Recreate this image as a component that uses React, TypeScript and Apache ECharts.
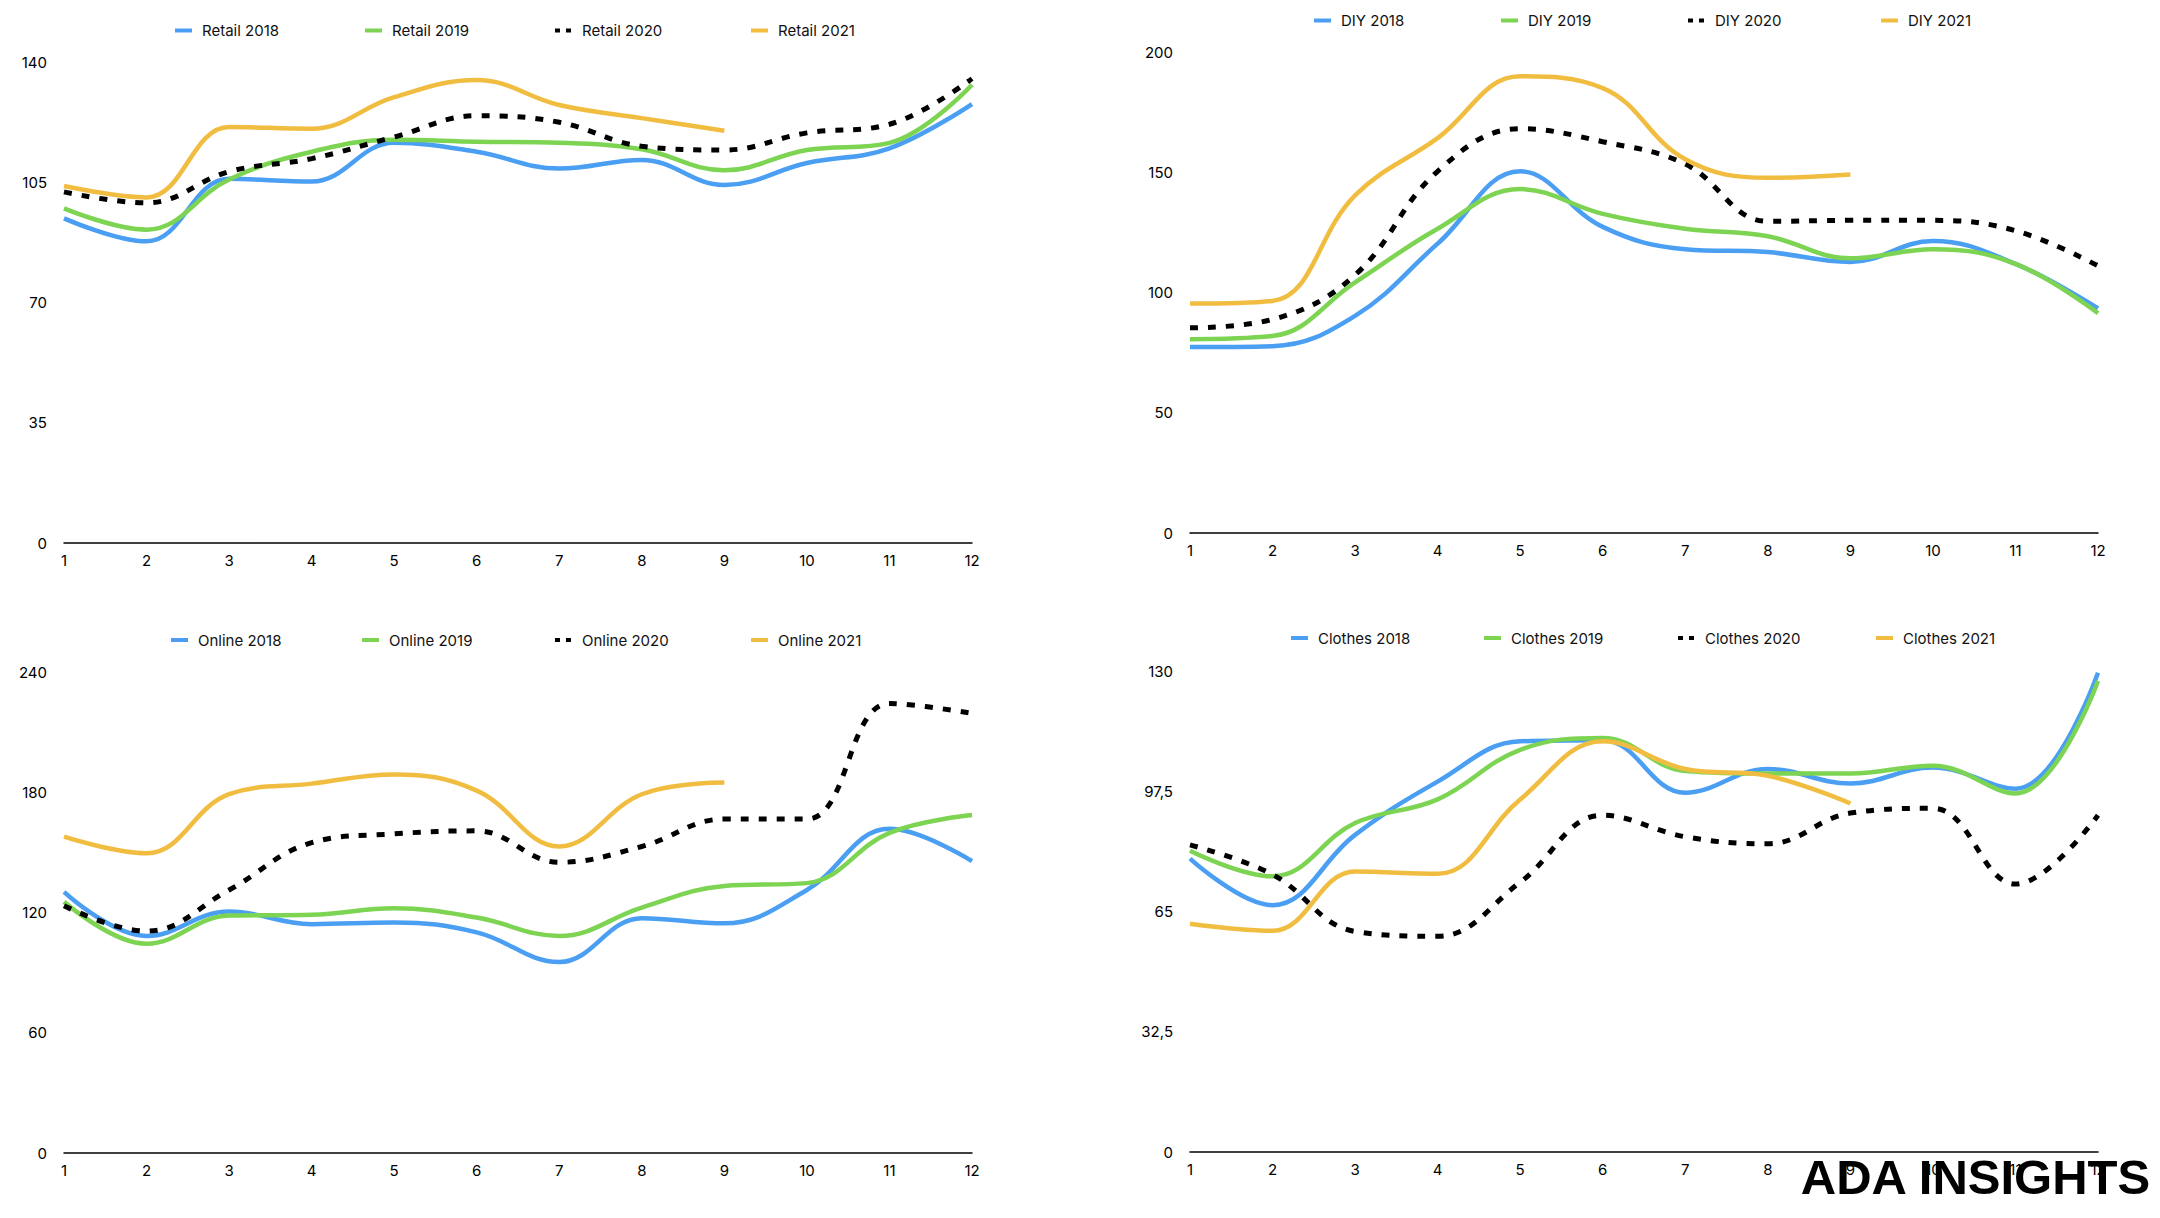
import React, { useEffect, useRef } from "react";
import * as echarts from "echarts";

const months = ["1", "2", "3", "4", "5", "6", "7", "8", "9", "10", "11", "12"];

const retailNames = ["Retail 2018", "Retail 2019", "Retail 2020", "Retail 2021"];
const retail2018 = [94.6, 87.9, 106.1, 105.3, 116.6, 114.0, 109.1, 111.6, 104.3, 110.7, 115.0, 127.9];
const retail2019 = [97.5, 91.3, 105.9, 114.0, 117.5, 116.9, 116.6, 114.7, 108.6, 114.5, 116.6, 133.5];
const retail2020 = [102.3, 99.1, 108.2, 112.0, 118.3, 124.5, 122.6, 115.6, 114.5, 119.5, 122.0, 135.3];
const retail2021 = [104.0, 100.7, 121.2, 120.7, 129.9, 134.9, 127.6, 123.8, 120.1];

const diyNames = ["DIY 2018", "DIY 2019", "DIY 2020", "DIY 2021"];
const diy2018 = [77.3, 77.7, 90.3, 120.3, 150.4, 127.3, 118.0, 116.8, 112.7, 121.4, 111.9, 93.4];
const diy2019 = [80.6, 81.9, 104.2, 126.5, 143.0, 132.7, 126.5, 123.4, 114.2, 118.0, 111.9, 91.4];
const diy2020 = [85.3, 88.8, 107.3, 150.4, 168.1, 162.7, 153.4, 129.6, 130.0, 130.0, 125.7, 111.1];
const diy2021 = [95.4, 96.5, 140.4, 164.2, 189.9, 185.0, 155.4, 147.7, 149.1];

const onlineNames = ["Online 2018", "Online 2019", "Online 2020", "Online 2021"];
const online2018 = [130.4, 108.4, 120.6, 114.3, 115.1, 110.2, 95.4, 117.3, 114.7, 131.4, 161.9, 145.8];
const online2019 = [125.5, 104.5, 118.6, 119.0, 122.2, 117.6, 108.4, 122.6, 133.4, 134.8, 159.9, 168.8];
const online2020 = [123.5, 110.8, 131.4, 155.0, 159.4, 160.9, 145.2, 153.1, 166.8, 166.8, 224.5, 219.6];
const online2021 = [158.0, 149.7, 179.2, 184.5, 189.1, 181.0, 153.1, 179.2, 185.1];

const clothesNames = ["Clothes 2018", "Clothes 2019", "Clothes 2020", "Clothes 2021"];
const clothes2018 = [79.3, 66.7, 85.7, 100.1, 111.0, 111.3, 97.1, 103.5, 99.6, 103.9, 98.2, 129.5];
const clothes2019 = [81.4, 74.5, 88.9, 95.3, 108.7, 111.9, 103.0, 102.3, 102.3, 104.4, 96.9, 127.3];
const clothes2020 = [83.0, 75.0, 59.6, 58.3, 72.9, 91.0, 85.2, 83.3, 91.6, 92.9, 72.4, 91.0];
const clothes2021 = [61.7, 59.8, 75.8, 75.2, 95.3, 111.0, 103.5, 101.7, 94.2];

const yMax = [140, 200, 240, 130];
const yInterval = [35, 50, 60, 32.5];

const COLORS = ["#4A9FF3", "#7CD452", "#000000", "#F1BD41"];
const FONT = "Inter";

export default function App() {
  const ref = useRef<HTMLDivElement>(null);

  useEffect(() => {
    document.body.style.margin = "0";
    if (!ref.current) return;
    const chart = echarts.init(ref.current, undefined, { renderer: "svg" });

    const grids = [
      { left: 64, right: 1188, top: 62.5, bottom: 675 },
      { left: 1190, right: 62, top: 52, bottom: 685 },
      { left: 64, right: 1188, top: 672.5, bottom: 65 },
      { left: 1190, right: 62, top: 671, bottom: 66 },
    ];

    const panels = [
      { names: retailNames, data: [retail2018, retail2019, retail2020, retail2021] },
      { names: diyNames, data: [diy2018, diy2019, diy2020, diy2021] },
      { names: onlineNames, data: [online2018, online2019, online2020, online2021] },
      { names: clothesNames, data: [clothes2018, clothes2019, clothes2020, clothes2021] },
    ];

    const legendPos = [
      { xs: [173, 363, 553, 749], y: 30.5 },
      { xs: [1312, 1499, 1686, 1879], y: 20.5 },
      { xs: [169, 360, 553, 749], y: 640 },
      { xs: [1289, 1482, 1676, 1874], y: 638 },
    ];

    const xAxis: any[] = [];
    const yAxis: any[] = [];
    const series: any[] = [];
    const legend: any[] = [];

    panels.forEach((p, gi) => {
      xAxis.push({
        type: "category",
        gridIndex: gi,
        data: months,
        boundaryGap: false,
        axisLine: { show: true, lineStyle: { color: "#000", width: 1.5 } },
        axisTick: { show: false },
        axisLabel: { color: "#000", fontSize: 15, fontFamily: FONT, margin: 10 },
        splitLine: { show: false },
      });
      yAxis.push({
        type: "value",
        gridIndex: gi,
        min: 0,
        max: yMax[gi],
        interval: yInterval[gi],
        axisLine: { show: false },
        axisTick: { show: false },
        splitLine: { show: false },
        axisLabel: {
          color: "#000",
          fontSize: 15,
          fontFamily: FONT,
          margin: 17,
          formatter: (v: number) => String(v).replace(".", ","),
        },
      });
      p.names.forEach((name, si) => {
        const dashed = si === 2;
        series.push({
          type: "line",
          name,
          xAxisIndex: gi,
          yAxisIndex: gi,
          data: p.data[si],
          smooth: 0.4,
          symbol: "none",
          showSymbol: false,
          lineStyle: {
            color: COLORS[si],
            width: dashed ? 5 : 4.5,
            type: dashed ? [8, 10] : "solid",
            cap: "butt",
          },
          itemStyle: { color: COLORS[si] },
          z: 2 + si,
        });
        legend.push({
          data: [name],
          left: legendPos[gi].xs[si],
          top: legendPos[gi].y - 10,
          itemWidth: 17,
          itemHeight: 10,
          itemGap: 0,
          padding: 0,
          itemStyle: { opacity: 0 },
          lineStyle: {
            width: dashed ? 4 : 4,
            type: dashed ? [5, 6] : "solid",
            color: COLORS[si],
            cap: "butt",
          },
          textStyle: {
            fontSize: 15,
            fontFamily: FONT,
            color: "#111",
            padding: [0, 0, 0, 5],
            lineHeight: 20,
          },
        });
      });
    });

    chart.setOption({
      animation: false,
      backgroundColor: "#ffffff",
      grid: grids,
      xAxis,
      yAxis,
      series,
      legend,
      graphic: [
        {
          type: "text",
          z: 100,
          right: 8,
          top: 1152,
          style: {
            text: "ADA INSIGHTS",
            font: 'bold 49px "Liberation Sans", Arial, sans-serif',
            fill: "#000",
          },
        },
      ],
    });

    return () => chart.dispose();
  }, []);

  return <div ref={ref} style={{ width: 2160, height: 1218 }} />;
}
